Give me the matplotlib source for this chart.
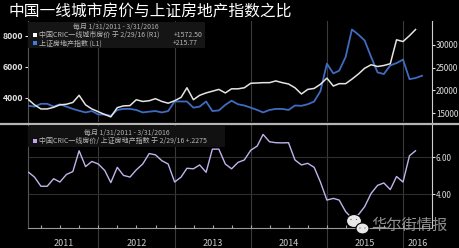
import matplotlib
matplotlib.use("Agg")
import matplotlib.pyplot as plt
import matplotlib.dates as mdates
from matplotlib.patches import Rectangle, Ellipse
from matplotlib.ticker import FormatStrFormatter
import numpy as np
import pandas as pd

plt.rcParams["font.family"] = ["Noto Sans CJK SC", "DejaVu Sans"]

# ---- monthly values (month-end points) ------------------------------------
MONTHS = pd.date_range("2011-01-31", "2016-03-31", freq="ME")

# 上证房地产指数 (L1), runs to 3/31/2016
SSE_PROP = [3470, 3420, 3600, 3600, 3420, 3570, 3420, 3270, 3150, 3040,
            3130, 2910, 2910, 2820, 3200, 3270, 3270, 3200, 3040, 3090,
            3130, 3040, 3130, 3750, 3750, 3750, 3350, 3420, 3750, 3130,
            3170, 3530, 3800, 3570, 3490, 3350, 3200, 3040, 3200, 3270,
            3270, 3200, 3490, 3470, 3570, 3750, 4420, 6200, 5570, 5750,
            6640, 8420, 8090, 7710, 6640, 5640, 5530, 6090, 6240, 6470,
            5200, 5270, 5420]
# 中国CRIC一线城市房价 (R1), runs to 2/29/2016
CRIC = [17970, 16850, 15950, 15950, 16310, 16850, 16980, 17370, 18940, 16850,
        15950, 15340, 14730, 14210, 16240, 16620, 16690, 17970, 17590, 17750,
        18200, 17590, 17210, 17750, 18490, 20590, 17970, 18940, 19460, 19840,
        20230, 19460, 20360, 20360, 20590, 21580, 21640, 21710, 21710, 22090,
        21710, 21420, 20590, 19230, 20230, 20450, 21350, 22700, 20970, 21490,
        21490, 22480, 23600, 24860, 25630, 25250, 25470, 25860, 31100, 30720,
        32000, 33350]
# 中国CRIC一线房价 / 上证房地产指数
RATIO = [5.19, 4.93, 4.43, 4.43, 4.84, 4.66, 5.07, 5.23, 6.36, 5.50,
         5.78, 5.64, 5.29, 4.63, 5.46, 5.02, 4.93, 5.32, 5.64, 6.21,
         6.14, 5.82, 5.64, 4.66, 4.93, 5.41, 5.38, 5.59, 5.19, 6.45,
         6.45, 5.64, 5.38, 5.73, 5.86, 6.39, 6.62, 7.25, 6.85, 6.80,
         6.79, 6.80, 5.86, 5.59, 5.68, 5.46, 4.66, 3.68, 3.77, 3.68,
         3.05, 2.70, 2.88, 3.32, 4.04, 4.48, 4.61, 4.25, 4.96, 4.66,
         6.09, 6.36]

YEARS = [2011, 2012, 2013, 2014, 2015, 2016]
LEFT_TICKS = [4000, 6000, 8000]
RIGHT_TICKS = [15000, 20000, 25000, 30000]
RATIO_TICKS = [4.0, 6.0]

TITLE = "中国一线城市房价与上证房地产指数之比"
PERIOD = "每月 1/31/2011 - 3/31/2016"
LBL_CRIC = "中国CRIC一线城市房价 于 2/29/16 (R1)"
VAL_CRIC = "+1572.50"
LBL_SSE = "上证房地产指数 (L1)"
VAL_SSE = "+215.77"
LBL_RATIO = "中国CRIC一线房价/ 上证房地产指数 于 2/29/16 +.2275"
WATERMARK = "华尔街情报"

WHITE, BLUE, PURPLE = "#e4e4e4", "#3f6cc0", "#c2b3ec"
GRID, TXT = "#3a3a3a", "#e0e0e0"

W, H = 460, 248
XLIM = (pd.Timestamp("2011-01-28"), pd.Timestamp("2016-05-18"))


def fx(px):
    return px / W


def fy(py):
    return 1 - py / H


fig = plt.figure(figsize=(W / 100, H / 100), dpi=100, facecolor="black")
ax_top = fig.add_axes([fx(28), fy(122), fx(432) - fx(28), fy(21) - fy(122)])
ax_r = ax_top.twinx()
ax_bot = fig.add_axes([fx(28), fy(228), fx(432) - fx(28), fy(124.5) - fy(228)])
ax_top.set_facecolor("black")
ax_bot.set_facecolor("black")

# ---- top panel --------------------------------------------------------------
ax_top.plot(MONTHS, SSE_PROP, color=BLUE, lw=1.3, zorder=3)
ax_r.plot(MONTHS[:len(CRIC)], CRIC, color=WHITE, lw=1.1, zorder=3)
ax_top.set_ylim(2420, 8970)
ax_r.set_ylim(13090, 35220)
ax_top.set_yticks(LEFT_TICKS)
ax_r.set_yticks(RIGHT_TICKS)
ax_top.set_xlim(*XLIM)

for a in (ax_top, ax_r):
    for s in ("top", "bottom"):
        a.spines[s].set_visible(False)
    a.tick_params(axis="x", bottom=False, labelbottom=False)
ax_top.spines["right"].set_visible(False)
ax_top.spines["left"].set_color("#555555")
ax_r.spines["left"].set_visible(False)
ax_r.spines["right"].set_color("#cfcfcf")
ax_top.tick_params(axis="y", colors=TXT, labelsize=6.3, length=2.5,
                   width=0.8, pad=1)
ax_r.tick_params(axis="y", colors=TXT, labelsize=5.8, length=1.8,
                 width=0.8, pad=1)
for lab in ax_top.get_yticklabels():
    lab.set_fontweight("bold")

# ---- bottom panel -----------------------------------------------------------
ax_bot.plot(MONTHS[:len(RATIO)], RATIO, color=PURPLE, lw=1.0, zorder=3)
ax_bot.set_xlim(*XLIM)
ax_bot.set_ylim(2.16, 7.79)
ax_bot.yaxis.tick_right()
ax_bot.set_yticks(RATIO_TICKS)
ax_bot.yaxis.set_major_formatter(FormatStrFormatter("%.2f"))
ax_bot.tick_params(axis="y", colors=TXT, labelsize=5.8, length=1.8,
                   width=0.8, pad=1)
ax_bot.grid(axis="y", color="#2e2e2e", lw=0.8)
ax_bot.xaxis.set_major_locator(mdates.MonthLocator(bymonth=[1, 4, 7, 10]))
ax_bot.tick_params(axis="x", direction="in", length=2.5, width=0.8,
                   color="#aaaaaa", labelbottom=False)
ax_bot.spines["top"].set_visible(False)
ax_bot.spines["left"].set_color("#555555")
ax_bot.spines["right"].set_color("#cfcfcf")
ax_bot.spines["bottom"].set_color("#9a9a9a")

# year boundaries and centred year labels
for y in YEARS[1:]:
    d = pd.Timestamp(f"{y}-01-01")
    ax_top.axvline(d, color=GRID, lw=0.8, zorder=1)
    ax_bot.axvline(d, ymin=-0.2, ymax=1, color=GRID, lw=0.8, zorder=1,
                   clip_on=False)
for y in YEARS:
    lo = max(pd.Timestamp(f"{y}-01-01"), XLIM[0])
    hi = min(pd.Timestamp(f"{y + 1}-01-01"), XLIM[1])
    mid = lo + (hi - lo) / 2
    ax_bot.text(mid, -0.145, str(y), transform=ax_bot.get_xaxis_transform(),
                ha="center", va="center", fontsize=6.5, color="#cccccc")

# ---- overlay in pixel space: title, legends, separator, watermark -----------
ov = fig.add_axes([0, 0, 1, 1], zorder=10)
ov.set_xlim(0, W)
ov.set_ylim(H, 0)
ov.axis("off")

ov.text(9, 12, TITLE, fontsize=11.3, color="white", va="center", ha="left")
ov.plot([0, W], [123.5, 123.5], color="#b5b5b5", lw=1.6)

ov.add_patch(Rectangle((28, 22), 177, 26, color="#151515", lw=0))
ov.text(115.5, 27, PERIOD, fontsize=5, color="#b0b0b0", ha="center",
        va="center")
ov.add_patch(Rectangle((33, 33), 4, 4, color="white", lw=0))
ov.text(39, 35, LBL_CRIC, fontsize=5, color="#b8b8b8", va="center")
ov.text(203, 35, VAL_CRIC, fontsize=5, color="#b8b8b8", va="center",
        ha="right")
ov.add_patch(Rectangle((33, 41.3), 4, 4, color="#3d7de0", lw=0))
ov.text(39, 43.3, LBL_SSE, fontsize=5, color="#b8b8b8", va="center")
ov.text(198, 43.3, VAL_SSE, fontsize=5, color="#b8b8b8", va="center",
        ha="right")

ov.add_patch(Rectangle((28, 125.5), 197, 21, color="#111111", lw=0))
ov.text(126.5, 133.3, PERIOD, fontsize=5, color="#b0b0b0", ha="center",
        va="center")
ov.add_patch(Rectangle((33, 138.7), 4, 4, color="#c9a2f2", lw=0))
ov.text(39, 140.7, LBL_RATIO, fontsize=5, color="#b8b8b8", va="center")

# WeChat-style logo + watermark text
ov.add_patch(Ellipse((354, 221), 15, 13, facecolor="#e8e8e8",
                     edgecolor="black", lw=0.8))
ov.add_patch(Ellipse((362.5, 228.5), 13, 11, facecolor="#e8e8e8",
                     edgecolor="black", lw=0.8))
for ex, ey in [(351, 219.5), (356.5, 219.5), (360, 228), (365, 228)]:
    ov.add_patch(Ellipse((ex, ey), 1.2, 1.2, color="#555555", lw=0))
ov.text(371, 225, WATERMARK, fontsize=11, color="#a0a0a0", va="center",
        ha="left", alpha=0.9)

fig.savefig("out.png", dpi=100, facecolor="black")
